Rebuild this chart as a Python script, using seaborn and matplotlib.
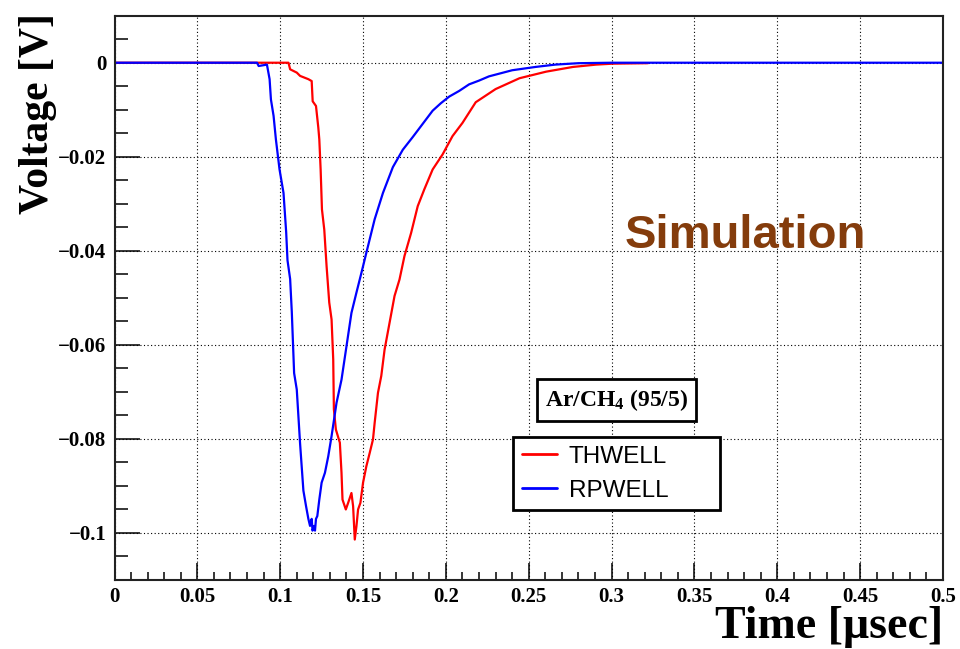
import numpy as np
import pandas as pd
import matplotlib
matplotlib.use("Agg")
import matplotlib.pyplot as plt
from matplotlib.ticker import MultipleLocator, FixedLocator, FixedFormatter
import seaborn as sns

# ---------------- data ----------------
series_names = ["THWELL", "RPWELL"]
series_colors = ["#ff0000", "#0000ff"]

thwell_t = [0.0, 0.105, 0.106, 0.11, 0.112, 0.117, 0.119, 0.1196, 0.1216, 0.123,
            0.1236, 0.1244, 0.1252, 0.1266, 0.128, 0.1296, 0.131, 0.132, 0.1324,
            0.1336, 0.136, 0.137, 0.1376, 0.1396, 0.141, 0.143, 0.144, 0.145,
            0.146, 0.147, 0.1484, 0.15, 0.152, 0.154, 0.156, 0.157, 0.159, 0.161,
            0.163, 0.166, 0.169, 0.172, 0.175, 0.179, 0.183, 0.187, 0.192, 0.198,
            0.204, 0.21, 0.218, 0.23, 0.2444, 0.2605, 0.2766, 0.2907, 0.3008, 0.322]
thwell_v = [0.0, 0.0, -0.0014, -0.0021, -0.0028, -0.0035, -0.0039, -0.0082, -0.0092,
            -0.0138, -0.0163, -0.0227, -0.0312, -0.0355, -0.0433, -0.051, -0.0546,
            -0.0631, -0.0737, -0.078, -0.0808, -0.0872, -0.0929, -0.095, -0.0936,
            -0.0915, -0.0943, -0.1014, -0.0986, -0.095, -0.0936, -0.0893, -0.0858,
            -0.083, -0.0801, -0.0766, -0.0702, -0.0666, -0.061, -0.0553, -0.0496,
            -0.0461, -0.0411, -0.0362, -0.0305, -0.0269, -0.0227, -0.0195, -0.0156,
            -0.0128, -0.0084, -0.0056, -0.0033, -0.0019, -0.0009, -0.0004, -0.0002,
            -0.0001]

rpwell_t = [0.0, 0.086, 0.087, 0.092, 0.0936, 0.0944, 0.096, 0.0974, 0.0996, 0.102,
            0.1036, 0.1044, 0.106, 0.107, 0.1084, 0.11, 0.112, 0.113, 0.114, 0.1156,
            0.117, 0.118, 0.119, 0.1195, 0.1205, 0.121, 0.1216, 0.1224, 0.1236,
            0.125, 0.127, 0.129, 0.131, 0.134, 0.137, 0.14, 0.143, 0.146, 0.149,
            0.152, 0.157, 0.162, 0.168, 0.174, 0.18, 0.186, 0.192, 0.197, 0.202,
            0.208, 0.214, 0.22, 0.226, 0.24, 0.254, 0.266, 0.28, 0.3, 0.5]
rpwell_v = [0.0, 0.0, -0.0007, -0.0004, -0.0035, -0.0078, -0.0113, -0.0163, -0.0227,
            -0.0277, -0.036, -0.042, -0.046, -0.053, -0.066, -0.0695, -0.081, -0.086,
            -0.091, -0.0943, -0.097, -0.0985, -0.097, -0.0995, -0.0985, -0.0995,
            -0.097, -0.0964, -0.0929, -0.0893, -0.0872, -0.0837, -0.0794, -0.0723,
            -0.0674, -0.0603, -0.0532, -0.0489, -0.0447, -0.0404, -0.0333, -0.0277,
            -0.0222, -0.0185, -0.0158, -0.013, -0.0102, -0.0086, -0.0072, -0.006,
            -0.0046, -0.0038, -0.0029, -0.0016, -0.0009, -0.0004, -0.0001, 0.0, 0.0]

x_ticks = [0.0, 0.05, 0.1, 0.15, 0.2, 0.25, 0.3, 0.35, 0.4, 0.45, 0.5]
x_tick_labels = ["0", "0.05", "0.1", "0.15", "0.2", "0.25", "0.3", "0.35", "0.4", "0.45", "0.5"]
y_ticks = [0.0, -0.02, -0.04, -0.06, -0.08, -0.1]
y_tick_labels = ["0", "\u22120.02", "\u22120.04", "\u22120.06", "\u22120.08", "\u22120.1"]

x_label = "Time [\u03bcsec]"
y_label = "Voltage [V]"
gas_label = "Ar/CH$_4$ (95/5)"
sim_label = "Simulation"

# ---------------- style ----------------
sns.set_style("white")
plt.rcParams["font.family"] = ["Liberation Serif", "DejaVu Serif"]
plt.rcParams["font.weight"] = "bold"
plt.rcParams["text.color"] = "black"
plt.rcParams["axes.labelcolor"] = "black"
plt.rcParams["mathtext.fontset"] = "custom"
plt.rcParams["mathtext.rm"] = "Liberation Serif:bold"
plt.rcParams["mathtext.it"] = "Liberation Serif:bold"
plt.rcParams["mathtext.bf"] = "Liberation Serif:bold"

df = pd.concat([
    pd.DataFrame({"t": thwell_t, "v": thwell_v, "series": series_names[0]}),
    pd.DataFrame({"t": rpwell_t, "v": rpwell_v, "series": series_names[1]}),
], ignore_index=True)

W, H = 960, 649
fig = plt.figure(figsize=(9.6, 6.49), dpi=100)
ax = fig.add_axes([114.5 / W, (H - 580) / H, 828.5 / W, 564.3 / H])

sns.lineplot(data=df, x="t", y="v", hue="series", hue_order=series_names,
             palette=dict(zip(series_names, series_colors)), estimator=None,
             sort=False, linewidth=1.6, ax=ax, legend=False)

ax.set_xlim(0, 0.5)
ax.set_ylim(-0.11, 0.01)

ax.xaxis.set_major_locator(FixedLocator(x_ticks))
ax.xaxis.set_major_formatter(FixedFormatter(x_tick_labels))
ax.yaxis.set_major_locator(FixedLocator(y_ticks))
ax.yaxis.set_major_formatter(FixedFormatter(y_tick_labels))
ax.xaxis.set_minor_locator(MultipleLocator(0.01))
ax.yaxis.set_minor_locator(MultipleLocator(0.005))

ax.tick_params(axis="both", which="both", direction="in", color="black", width=1.1,
               bottom=True, left=True, top=False, right=False,
               labelsize=15, labelcolor="black", labelfontfamily="Liberation Serif")
ax.tick_params(axis="x", which="major", length=12, pad=5)
ax.tick_params(axis="x", which="minor", length=6)
ax.tick_params(axis="y", which="major", length=18, pad=6)
ax.tick_params(axis="y", which="minor", length=9)

for sp in ax.spines.values():
    sp.set_color("#222222")
    sp.set_linewidth(1.5)

ax.grid(True, which="major", color="black", linestyle=(0, (1, 2.2)), linewidth=0.8)
ax.set_axisbelow(True)

ax.set_xlabel(x_label, fontsize=33, fontweight="bold", family="Liberation Serif",
              ha="right", color="black")
ax.xaxis.set_label_coords(1.0, -0.046)
ax.set_ylabel(y_label, fontsize=30, fontweight="bold", family="Liberation Serif",
              ha="right", color="black")
ax.yaxis.set_label_coords(-0.07, 1.004)

fig.text(625 / W, 1 - 248 / H, sim_label, color="#843C0C", fontsize=34,
         fontweight="bold", family="Liberation Sans", ha="left", va="baseline")

fig.text(616.5 / W, 1 - 400 / H, gas_label, ha="center", va="center", fontsize=17,
         fontweight="bold", family="Liberation Serif", color="black",
         bbox=dict(boxstyle="square,pad=0.35", fc="white", ec="black", lw=2))

leg = ax.legend(handles=ax.lines[:2], labels=series_names, loc="upper left",
                bbox_to_anchor=(513 / W, 1 - 518 / H, 207 / W, 81 / H),
                bbox_transform=fig.transFigure, mode="expand", frameon=True,
                fancybox=False, edgecolor="black", framealpha=1, borderpad=0.35,
                labelspacing=0.5, handlelength=1.45, handletextpad=0.5,
                borderaxespad=0, labelcolor="black",
                prop={"family": "Liberation Sans", "size": 17.5, "weight": "normal"})
leg.get_frame().set_linewidth(2)
for h in leg.legend_handles:
    h.set_linewidth(2)

fig.savefig("out.png", dpi=100)
